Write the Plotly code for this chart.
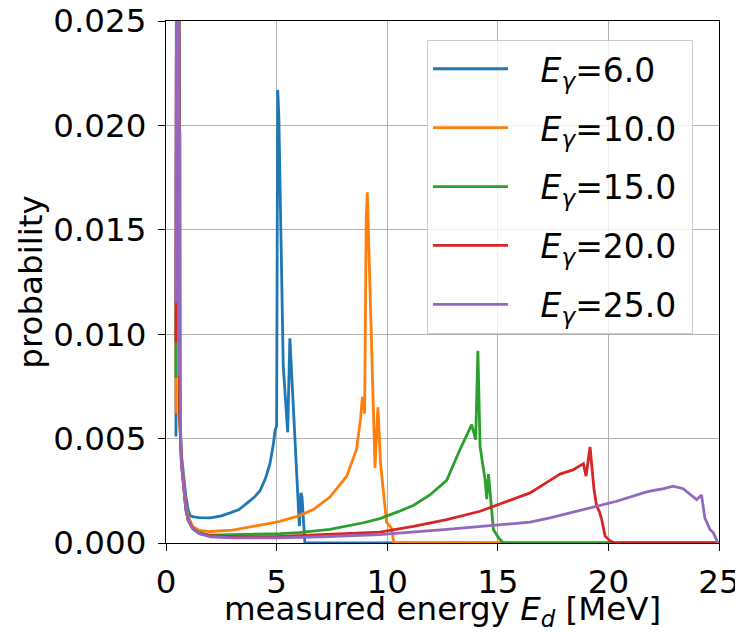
import plotly.graph_objects as go

# ---- data ----
labels = ["6.0", "10.0", "15.0", "20.0", "25.0"]
colors = ["#1f77b4", "#ff7f0e", "#2ca02c", "#d62728", "#9467bd"]

x_e6 = [0.45, 0.5, 0.58, 0.62, 0.7, 0.8, 0.9, 1.0, 1.1, 1.25, 1.5, 2.0, 2.5, 2.9, 3.3, 3.65, 4.0,
        4.25, 4.5, 4.7, 4.85, 4.93, 5.0, 5.05, 5.1, 5.3, 5.45, 5.5, 5.6, 5.73, 5.88, 6.03, 6.1,
        6.15, 6.28, 25]
y_e6 = [0.0051, 0.05, 0.03, 0.0065, 0.0042, 0.003, 0.0022, 0.0016, 0.0013, 0.00125, 0.00122,
        0.0012, 0.0013, 0.00144, 0.0016, 0.0019, 0.0022, 0.0025, 0.0031, 0.0038, 0.0047, 0.0054,
        0.0056, 0.0217, 0.0205, 0.0085, 0.0058, 0.0053, 0.0098, 0.0072, 0.0038, 0.0008, 0.0024,
        0.0022, 0.0, 0.0]

x_e10 = [0.45, 0.5, 0.58, 0.62, 0.7, 0.8, 0.9, 1.0, 1.2, 1.5, 2.0, 3.0, 3.65, 4.5, 5.15, 6.0,
         6.66, 7.41, 8.17, 8.62, 8.8, 8.88, 8.98, 9.05, 9.1, 9.25, 9.45, 9.58, 9.7, 9.97, 10.2,
         10.3, 25]
y_e10 = [0.0062, 0.05, 0.03, 0.006, 0.004, 0.0028, 0.0018, 0.0013, 0.0008, 0.0006, 0.00055,
         0.00062, 0.00073, 0.0009, 0.00104, 0.0013, 0.0016, 0.0022, 0.0032, 0.0045, 0.006, 0.007,
         0.0062, 0.0155, 0.0168, 0.0106, 0.0036, 0.0065, 0.0038, 0.001, 0.0007, 0.0, 0.0]

x_e15 = [0.45, 0.5, 0.58, 0.62, 0.7, 0.8, 0.9, 1.0, 1.2, 1.5, 2.0, 3.0, 4.0, 5.15, 6.0, 7.41,
         8.92, 9.67, 10.5, 11.18, 11.93, 12.69, 13.3, 13.82, 14.0, 14.1, 14.2, 14.43, 14.5,
         14.58, 14.8, 15.0, 15.23, 25]
y_e15 = [0.0079, 0.05, 0.03, 0.006, 0.0038, 0.0026, 0.0016, 0.0011, 0.0007, 0.0005, 0.00037,
         0.0004, 0.00042, 0.00045, 0.0005, 0.00065, 0.00097, 0.00117, 0.0015, 0.0018, 0.0023,
         0.003, 0.0045, 0.00567, 0.00495, 0.0092, 0.0046, 0.003, 0.0021, 0.0033, 0.00065,
         0.0003, 0.0, 0.0]

x_e20 = [0.45, 0.5, 0.58, 0.62, 0.7, 0.8, 0.9, 1.0, 1.2, 1.5, 2.0, 3.0, 5.0, 7.0, 8.92, 9.67,
         11.18, 12.69, 14.2, 15.7, 16.46, 17.36, 17.81, 18.4, 18.87, 18.99, 19.17, 19.35, 19.47,
         19.59, 19.7, 19.85, 20.07, 20.3, 25]
y_e20 = [0.0096, 0.05, 0.03, 0.006, 0.0038, 0.0026, 0.0016, 0.0011, 0.0007, 0.00045, 0.00035,
         0.0003, 0.0003, 0.0004, 0.0005, 0.00052, 0.0008, 0.00112, 0.00152, 0.00208, 0.0024,
         0.003, 0.0033, 0.0035, 0.0038, 0.0032, 0.0046, 0.00256, 0.00176, 0.00152, 0.00112,
         0.00033, 0.0001, 0.0, 0.0]

x_e25 = [0.45, 0.5, 0.58, 0.6, 0.63, 0.66, 0.7, 0.8, 0.9, 1.0, 1.2, 1.5, 2.0, 3.0, 5.0, 7.0,
         9.67, 12.69, 14.8, 16.46, 17.36, 18.87, 20.37, 21.58, 21.88, 22.5, 22.93, 23.38, 23.99,
         24.21, 24.36, 24.59, 24.74, 24.95]
y_e25 = [0.0115, 0.05, 0.03, 0.008, 0.0198, 0.005, 0.0038, 0.0026, 0.0016, 0.0011, 0.0007,
         0.00045, 0.0003, 0.00025, 0.00025, 0.0003, 0.0004, 0.00065, 0.00084, 0.001, 0.0012,
         0.0016, 0.002, 0.0024, 0.00248, 0.0026, 0.00272, 0.0026, 0.00208, 0.0023, 0.0012,
         0.00065, 0.0005, 0.0]

xs = [x_e6, x_e10, x_e15, x_e20, x_e25]
ys = [y_e6, y_e10, y_e15, y_e20, y_e25]

x_ticks = [0, 5, 10, 15, 20, 25]
y_ticks = [0.0, 0.005, 0.010, 0.015, 0.020, 0.025]
y_ticklabels = ["0.000", "0.005", "0.010", "0.015", "0.020", "0.025"]

FONT = "DejaVu Sans"
FS = 32.5
LFS = 33
GAP = "\u00a0\u00a0\u2009"
TAIL = "\u00a0"

fig = go.Figure()
for lab, col, x, y in zip(labels, colors, xs, ys):
    fig.add_trace(go.Scatter(
        x=x, y=y, mode="lines",
        line=dict(color=col, width=2.8),
        name=GAP + "<i>E</i><sub><i>γ</i></sub>=" + lab + TAIL,
        legendgroup=lab,
    ))

axis_common = dict(
    showline=True, linecolor="black", linewidth=1.2, mirror=True,
    ticks="outside", ticklen=7, tickwidth=1.2, tickcolor="black",
    showgrid=True, gridcolor="#b0b0b0", gridwidth=1,
    zeroline=False, automargin=False, ticklabeloverflow="allow",
    tickfont=dict(family=FONT, size=FS, color="black"),
)

fig.update_xaxes(range=[0, 25], tickvals=x_ticks, ticklabelstandoff=3,
                 title=dict(text="measured energy <i>E</i><sub><i>d</i></sub> [MeV]",
                            font=dict(family=FONT, size=FS, color="black"), standoff=8),
                 **axis_common)
fig.update_yaxes(range=[0, 0.025], tickvals=y_ticks, ticktext=y_ticklabels, ticklabelstandoff=5,
                 title=dict(text="probability",
                            font=dict(family=FONT, size=FS, color="black"), standoff=0),
                 **axis_common)

# the page body has an 8px margin, so the figure is 8px smaller to fit the 743x632 window
fig.update_layout(
    width=735, height=624,
    margin=dict(l=158, r=24, t=13, b=89),
    plot_bgcolor="white", paper_bgcolor="white",
    font=dict(family=FONT, size=FS, color="black"),
    legend=dict(
        x=0.472, y=0.964, xanchor="left", yanchor="top",
        bgcolor="rgba(255,255,255,0.8)", bordercolor="#cccccc", borderwidth=1,
        font=dict(family=FONT, size=LFS, color="black"),
        tracegroupgap=13, itemwidth=75,
    ),
)

fig.write_html("out.html")
